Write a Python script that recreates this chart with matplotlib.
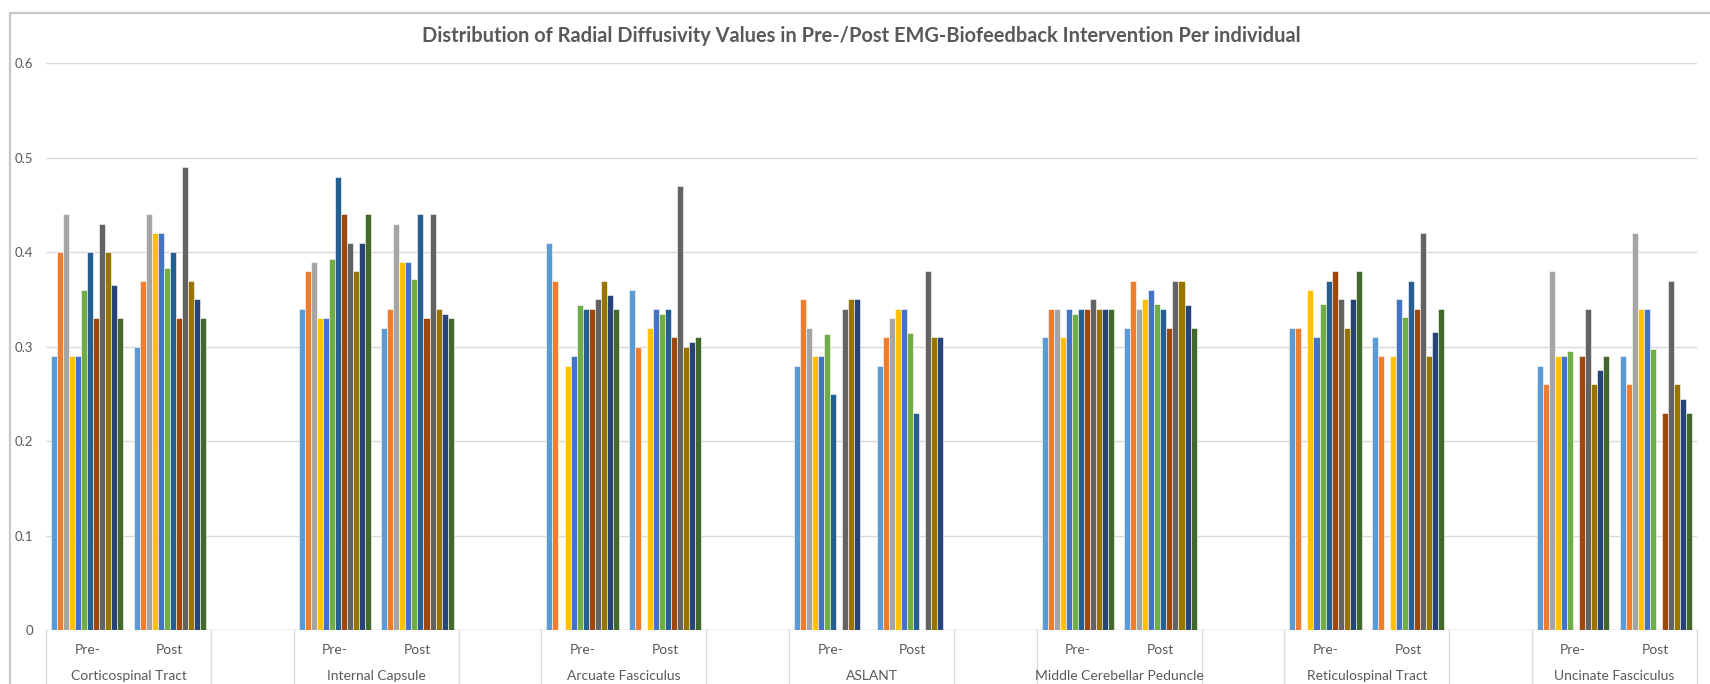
import numpy as np
import matplotlib
matplotlib.use("Agg")
from matplotlib import pyplot as plt
import matplotlib.patches as patches
import matplotlib.transforms as mtransforms

plt.rcParams['font.family'] = ['Lato', 'DejaVu Sans']

# tracts and phases
tracts = ["Corticospinal Tract", "Internal Capsule", "Arcuate Fasciculus", "ASLANT",
          "Middle Cerebellar Peduncle", "Reticulospinal Tract", "Uncinate Fasciculus"]
phases = ["Pre-", "Post"]

# one list per individual (12 series), values in order:
# CST pre, CST post, IC pre, IC post, AF pre, AF post, ASLANT pre, ASLANT post,
# MCP pre, MCP post, RST pre, RST post, UF pre, UF post   (None = no value)
s1 = [0.29, 0.30, 0.34, 0.32, 0.41, 0.36, 0.28, 0.28, 0.31, 0.32, 0.32, 0.31, 0.28, 0.29]
s2 = [0.40, 0.37, 0.38, 0.34, 0.37, 0.30, 0.35, 0.31, 0.34, 0.37, 0.32, 0.29, 0.26, 0.26]
s3 = [0.44, 0.44, 0.39, 0.43, None, None, 0.32, 0.33, 0.34, 0.34, None, None, 0.38, 0.42]
s4 = [0.29, 0.42, 0.33, 0.39, 0.28, 0.32, 0.29, 0.34, 0.31, 0.35, 0.36, 0.29, 0.29, 0.34]
s5 = [0.29, 0.42, 0.33, 0.39, 0.29, 0.34, 0.29, 0.34, 0.34, 0.36, 0.31, 0.35, 0.29, 0.34]
s6 = [0.36, 0.383, 0.393, 0.372, 0.344, 0.335, 0.313, 0.314, 0.335, 0.345, 0.345, 0.331, 0.295, 0.298]
s7 = [0.40, 0.40, 0.48, 0.44, 0.34, 0.34, 0.25, 0.23, 0.34, 0.34, 0.37, 0.37, None, None]
s8 = [0.33, 0.33, 0.44, 0.33, 0.34, 0.31, None, None, 0.34, 0.32, 0.38, 0.34, 0.29, 0.23]
s9 = [0.43, 0.49, 0.41, 0.44, 0.35, 0.47, 0.34, 0.38, 0.35, 0.37, 0.35, 0.42, 0.34, 0.37]
s10 = [0.40, 0.37, 0.38, 0.34, 0.37, 0.30, 0.35, 0.31, 0.34, 0.37, 0.32, 0.29, 0.26, 0.26]
s11 = [0.365, 0.35, 0.41, 0.335, 0.355, 0.305, 0.35, 0.31, 0.34, 0.344, 0.35, 0.315, 0.275, 0.245]
s12 = [0.33, 0.33, 0.44, 0.33, 0.34, 0.31, None, None, 0.34, 0.32, 0.38, 0.34, 0.29, 0.23]
series = [s1, s2, s3, s4, s5, s6, s7, s8, s9, s10, s11, s12]

colors = ["#5B9BD5", "#ED7D31", "#A5A5A5", "#FFC000", "#4472C4", "#70AD47",
          "#255E91", "#9E480E", "#636363", "#997300", "#264478", "#43682B"]

text_color = "#595959"
line_color = "#D9D9D9"

fig = plt.figure(figsize=(17.1, 6.84), dpi=100)
W, H = 1710, 684
ax = fig.add_axes([46 / W, 1 - 630 / H, (1697 - 46) / W, (630 - 63.3) / H])

# slot positions: pre, post, then an empty slot between tracts
n_slots = len(tracts) * 3 - 1
slot_x = []
for t in range(len(tracts)):
    slot_x += [3 * t, 3 * t + 1]
slot_x = np.array(slot_x, dtype=float)

group_w = 0.875
bw = group_w / len(series)
for j, (vals, c) in enumerate(zip(series, colors)):
    v = np.array([np.nan if x is None else x for x in vals], dtype=float)
    ax.bar(slot_x + (j - (len(series) - 1) / 2) * bw, v, width=bw, color=c,
           edgecolor="white", linewidth=0.4, zorder=3)

ax.set_xlim(-0.5, n_slots - 0.5)
ax.set_ylim(0, 0.6)
ax.set_yticks(np.arange(0, 0.61, 0.1))
ax.set_yticklabels(["0", "0.1", "0.2", "0.3", "0.4", "0.5", "0.6"])
ax.yaxis.grid(True, color=line_color, linewidth=1.0, zorder=0)
ax.tick_params(axis="y", length=0, pad=9.5, labelsize=9.5, labelcolor=text_color)
ax.set_xticks([])
for sp in ax.spines.values():
    sp.set_visible(False)

# category axis: baseline, separators and two label rows
ax.axhline(0, color=line_color, linewidth=1.0, zorder=2)
trans = mtransforms.blended_transform_factory(ax.transData, ax.transAxes)
bounds = [-0.5]
for t in range(len(tracts)):
    bounds += [3 * t + 1.5]
    if t < len(tracts) - 1:
        bounds += [3 * t + 2.5]
for b in bounds:
    ax.plot([b, b], [0, -0.2], color=line_color, linewidth=1.0,
            transform=trans, clip_on=False)

for t, name in enumerate(tracts):
    for k, ph in enumerate(phases):
        ax.text(3 * t + k, -0.035, ph, transform=trans, ha="center", va="center",
                fontsize=10, color=text_color)
    ax.text(3 * t + 0.5, -0.081, name, transform=trans, ha="center", va="center",
            fontsize=10, color=text_color)

fig.text(861 / W, 1 - 36 / H,
         "Distribution of Radial Diffusivity Values in Pre-/Post EMG-Biofeedback Intervention Per individual",
         ha="center", va="center", fontsize=14.4, fontweight="bold", color=text_color)

# chart border (runs off the right and bottom edges)
fig.patches.append(patches.Rectangle((10 / W, -0.05), 1.1, 1.05 - 13 / H,
                                     transform=fig.transFigure, fill=False,
                                     edgecolor="#C8C8C8", linewidth=1.6))

fig.savefig("out.png", dpi=100, facecolor="white")
